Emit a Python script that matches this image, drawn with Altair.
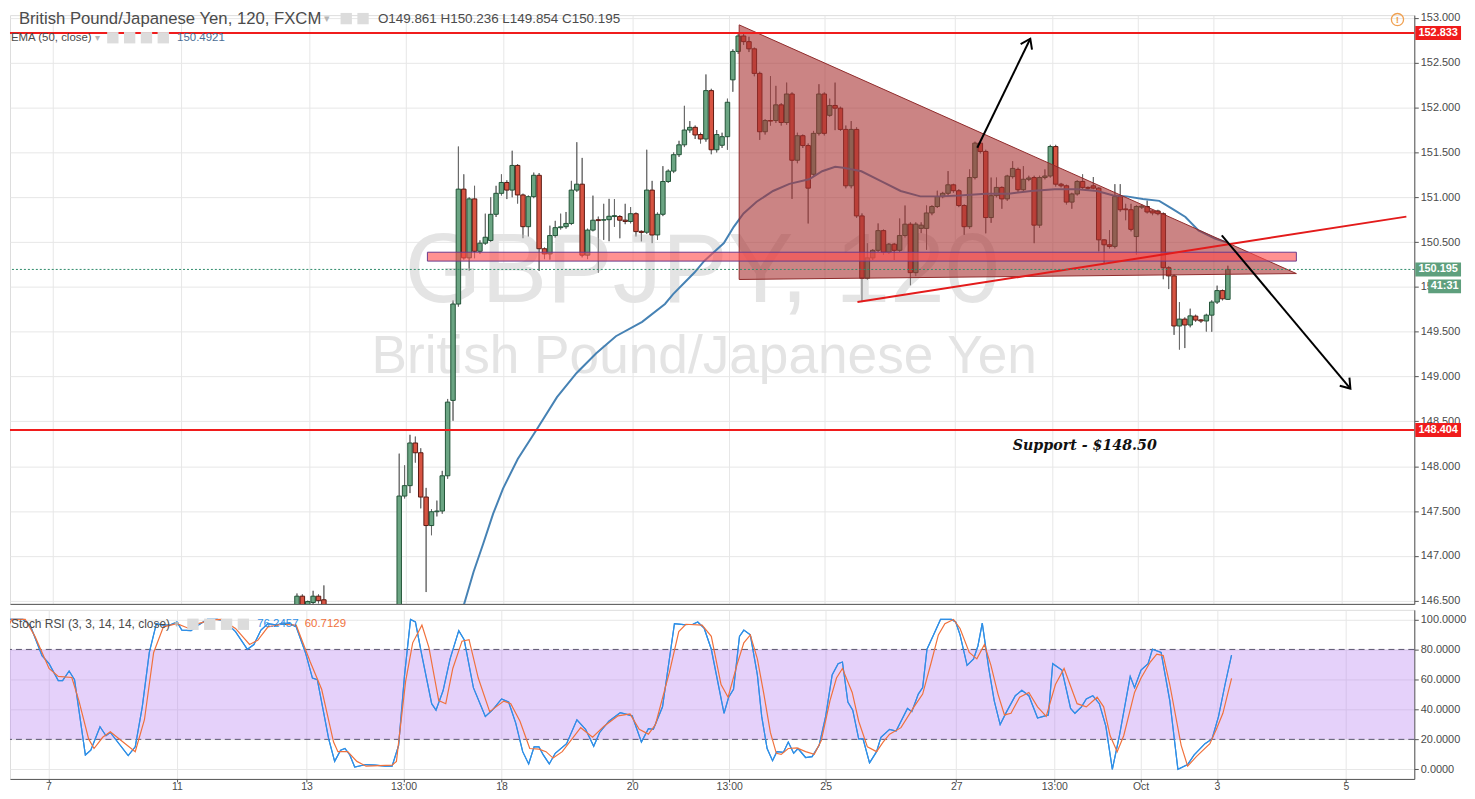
import altair as alt
import pandas as pd

# ---------------- data ----------------
# 2-hour candles, sequence number 0 = first bar of the breakout leg
candle_idx = list(range(-19, -13)) + list(range(0, 155))

opens = [146.41, 146.55, 146.45, 146.48, 146.55, 146.51,
    146.38, 147.667, 147.783, 148.259, 148.15, 147.656, 147.338, 147.492, 147.50, 147.893,
    148.734, 149.809, 151.091, 150.324, 150.982, 150.397, 150.488, 150.518, 150.810, 151.044,
    151.165, 151.08, 151.355, 151.026, 150.672, 151.007, 151.245, 150.426, 150.368, 150.573,
    150.661, 150.672, 150.708, 151.08, 151.146, 150.354, 150.634, 150.75, 150.745, 150.75,
    150.785, 150.785, 150.745, 150.73, 150.817, 150.62, 150.61, 151.08, 150.58, 150.81,
    151.176, 151.292, 151.475, 151.585, 151.75, 151.78, 151.70, 151.65, 152.19, 151.53,
    151.58, 151.676, 152.31, 152.627, 152.799, 152.736, 152.656, 152.382, 151.731, 151.856,
    151.856, 152.031, 151.834, 152.152, 151.413, 151.687, 151.577, 151.256, 151.713, 152.152,
    151.914, 152.024, 151.994, 151.757, 151.128, 151.757, 150.792, 150.097, 150.324, 150.408,
    150.628, 150.387, 150.477, 150.408, 150.573, 150.70, 150.159, 150.653, 150.653, 150.825,
    150.897, 151.007, 151.044, 151.139, 151.073, 150.908, 150.672, 151.22, 151.604, 151.511,
    150.774, 151.018, 151.11, 150.982, 151.23, 151.311, 151.084, 151.20, 151.22, 150.689,
    151.22, 151.237, 151.566, 151.146, 151.128, 150.946, 151.037, 151.176, 151.11, 151.128,
    151.102, 150.525, 150.47, 150.452, 151.007, 150.87, 150.861, 150.562, 150.89, 150.897,
    150.847, 150.847, 150.817, 150.214, 150.123, 149.564, 149.641, 149.575, 149.674, 149.632,
    149.62, 149.685, 149.831, 149.959, 149.861]

highs = [146.58, 146.57, 146.50, 146.61, 146.57, 146.67,
    148.14, 148.01, 148.35, 148.33, 148.20, 147.758, 147.52, 147.616, 147.948, 148.75,
    149.85, 151.566, 151.256, 151.00, 151.128, 150.52, 150.817, 151.00, 151.128, 151.256,
    151.19, 151.519, 151.37, 151.04, 151.02, 151.275, 151.27, 150.44, 150.683, 150.737,
    150.817, 150.836, 151.183, 151.614, 151.439, 150.65, 151.018, 150.784, 150.927, 150.982,
    150.98, 150.80, 150.927, 150.891, 150.83, 150.63, 151.53, 151.183, 150.83, 151.347,
    151.31, 151.50, 151.63, 152.02, 151.85, 151.80, 151.72, 152.37, 152.21, 151.75,
    151.72, 152.10, 152.65, 152.82, 152.833, 152.791, 152.67, 152.40, 151.87, 152.352,
    152.243, 152.05, 152.279, 152.17, 151.72, 151.70, 151.60, 151.74, 152.261, 152.17,
    152.10, 152.279, 152.01, 151.80, 151.85, 151.78, 150.82, 150.488, 150.42, 150.708,
    150.64, 150.49, 150.49, 150.763, 150.908, 150.72, 150.72, 150.72, 150.908, 150.91,
    151.073, 151.06, 151.292, 151.15, 151.09, 150.92, 151.311, 151.62, 151.62, 151.53,
    151.22, 151.22, 151.12, 151.25, 151.402, 151.33, 151.347, 151.24, 151.24, 151.24,
    151.311, 151.585, 151.585, 151.16, 151.14, 151.05, 151.19, 151.256, 151.12, 151.226,
    151.11, 150.53, 150.634, 151.146, 151.146, 150.927, 150.927, 150.91, 150.92, 150.963,
    150.86, 150.86, 150.83, 150.23, 150.14, 149.831, 149.66, 149.757, 149.69, 149.64,
    149.70, 149.85, 150.014, 149.97, 150.236]

lows = [146.38, 146.35, 146.40, 146.45, 146.47, 146.40,
    146.30, 147.64, 147.70, 148.04, 147.53, 146.596, 147.23, 147.44, 147.47, 147.86,
    148.507, 149.78, 150.305, 150.181, 150.32, 150.37, 150.47, 150.50, 150.78, 151.02,
    150.98, 151.00, 150.93, 150.543, 150.562, 150.99, 150.178, 150.31, 150.305, 150.55,
    150.64, 150.65, 150.69, 151.06, 150.33, 150.31, 150.62, 150.159, 150.525, 150.51,
    150.67, 150.543, 150.70, 150.71, 150.562, 150.507, 150.59, 150.488, 150.525, 150.79,
    151.16, 151.27, 151.45, 151.56, 151.72, 151.65, 151.60, 151.62, 151.48, 151.50,
    151.55, 151.53, 152.177, 152.60, 152.70, 152.62, 152.35, 151.64, 151.70, 151.80,
    151.83, 151.80, 151.81, 150.982, 151.38, 151.55, 150.708, 151.23, 151.69, 151.69,
    151.90, 151.749, 151.74, 151.10, 151.10, 150.77, 149.831, 150.08, 150.30, 150.39,
    150.36, 150.37, 150.30, 150.39, 150.55, 150.017, 150.12, 150.60, 150.415, 150.80,
    150.88, 150.99, 151.02, 151.05, 150.89, 150.579, 150.65, 151.20, 151.49, 150.598,
    150.715, 151.00, 150.872, 150.96, 151.21, 151.06, 151.06, 151.18, 150.488, 150.66,
    151.20, 151.22, 151.12, 151.11, 150.92, 150.872, 151.02, 151.09, 151.08, 151.09,
    150.397, 150.269, 150.43, 150.43, 150.84, 150.744, 150.62, 150.36, 150.87, 150.82,
    150.80, 150.80, 150.086, 149.976, 149.465, 149.301, 149.318, 149.55, 149.61, 149.60,
    149.502, 149.50, 149.81, 149.85, 149.854]

closes = [146.55, 146.40, 146.49, 146.55, 146.50, 146.45,
    147.667, 147.783, 148.259, 148.15, 147.656, 147.338, 147.492, 147.50, 147.893, 148.715,
    149.809, 151.091, 150.324, 150.982, 150.397, 150.488, 150.554, 150.810, 151.044, 151.165,
    151.08, 151.355, 151.026, 150.672, 151.007, 151.245, 150.426, 150.368, 150.573, 150.661,
    150.67, 150.708, 151.08, 151.146, 150.354, 150.634, 150.744, 150.74, 150.75, 150.788,
    150.795, 150.744, 150.73, 150.817, 150.617, 150.608, 151.08, 150.579, 150.81, 151.176,
    151.292, 151.475, 151.585, 151.75, 151.78, 151.695, 151.65, 152.19, 151.53, 151.70,
    151.676, 152.06, 152.627, 152.799, 152.736, 152.656, 152.382, 151.731, 151.856, 151.85,
    152.031, 151.834, 152.152, 151.413, 151.687, 151.577, 151.102, 151.713, 152.152, 151.713,
    152.024, 151.994, 151.757, 151.128, 151.757, 150.792, 150.097, 150.324, 150.408, 150.628,
    150.387, 150.477, 150.408, 150.573, 150.700, 150.159, 150.70, 150.689, 150.825, 150.897,
    151.007, 151.044, 151.139, 151.073, 150.908, 150.672, 151.22, 151.604, 151.511, 150.774,
    151.018, 151.11, 150.982, 151.237, 151.322, 151.084, 151.201, 151.215, 150.689, 151.22,
    151.237, 151.566, 151.146, 151.128, 150.946, 151.037, 151.176, 151.11, 151.10, 151.102,
    150.525, 150.47, 150.452, 151.007, 150.861, 150.861, 150.642, 150.897, 150.902, 150.836,
    150.825, 150.817, 150.214, 150.123, 149.564, 149.641, 149.575, 149.677, 149.63, 149.62,
    149.685, 149.831, 149.959, 149.867, 150.195]

ema50 = [(11.08, 146.27), (12.30, 146.51), (13.81, 146.82), (15.64, 147.14), (17.46, 147.47),
    (19.29, 147.75), (22.03, 148.08), (25.67, 148.42), (29.32, 148.77), (32.97, 149.04),
    (36.62, 149.26), (40.27, 149.45), (45.15, 149.61), (49.39, 149.81), (50.91, 149.92),
    (53.04, 150.05), (54.87, 150.16), (56.69, 150.29), (58.52, 150.39), (60.34, 150.49),
    (62.17, 150.67), (63.99, 150.82), (66.42, 150.95), (69.47, 151.07), (72.52, 151.15),
    (76.17, 151.20), (78.60, 151.29), (81.02, 151.34), (82.55, 151.33), (85.89, 151.29),
    (89.54, 151.18), (93.19, 151.07), (96.84, 151.01), (100.49, 151.01), (104.14, 151.02),
    (109.01, 151.04), (113.27, 151.04), (117.46, 151.07), (121.79, 151.09), (126.04, 151.09),
    (129.69, 151.07), (132.74, 151.02), (135.16, 151.01), (138.21, 150.98), (141.24, 150.96),
    (143.69, 150.87), (146.11, 150.78), (148.54, 150.63), (151.59, 150.54), (154.0, 150.4921)]

stoch_k = [(-72.9, 92.9), (-71.6, 100), (-69.0, 100), (-67.7, 96.2), (-65.5, 75.9), (-64.2, 70.5),
    (-62.5, 59.2), (-61.7, 59.2), (-60.5, 65.6), (-59.5, 59.8), (-57.5, 9.6), (-56.5, 12.8),
    (-54.8, 28.4), (-53.7, 22.4), (-52.9, 24.6), (-49.6, 9.2), (-48.3, 15.0), (-47.0, 41.7),
    (-45.7, 78.0), (-44.4, 97.2), (-43.1, 96.2), (-41.9, 96.2), (-40.6, 98.3), (-39.7, 92.9),
    (-38.0, 92.5), (-36.7, 96.2), (-35.0, 100), (-33.2, 100), (-32.0, 99.4), (-29.8, 91.9),
    (-27.6, 80.1), (-26.4, 83.3), (-25.1, 92.9), (-23.8, 97.2), (-22.1, 96.2), (-21.2, 97.6),
    (-19.9, 97.2), (-18.6, 95.1), (-16.9, 78.0), (-15.6, 60.9), (-14.7, 59.8), (-12.6, 20.3),
    (-11.5, 5.3), (-10.4, 12.8), (-9.6, 13.9), (-8.7, 9.6), (-7.8, 1.5), (-5.7, 3.2),
    (-4.0, 2.8), (-2.2, 2.1), (-0.9, 2.1), (0.3, 16.0), (1.4, 63.0), (2.5, 100), (3.4, 98.3),
    (4.6, 75.9), (6.4, 43.8), (7.2, 39.5), (8.5, 52.4), (9.8, 73.7), (11.4, 92.5), (12.4, 86.5),
    (14.1, 54.5), (16.3, 35.3), (17.6, 39.5), (19.3, 47.0), (20.6, 44.9), (21.9, 31.0),
    (23.2, 11.8), (24.3, 3.6), (25.3, 15.0), (26.2, 15.0), (27.0, 9.6), (28.1, 3.6),
    (29.2, 10.7), (31.3, 17.1), (33.2, 33.1), (34.8, 26.7), (36.3, 15.4), (37.4, 24.6),
    (39.1, 32.1), (41.2, 37.8), (43.4, 35.7), (45.1, 18.2), (46.4, 27.1), (47.3, 26.7),
    (49.0, 41.7), (51.2, 97.2), (52.9, 96.6), (54.6, 96.8), (55.5, 98.3), (56.7, 94.0),
    (58.0, 80.1), (60.35, 37.4), (61.2, 48.1), (62.1, 53.4), (63.2, 88.7), (64.0, 92.9),
    (65.2, 89.7), (66.5, 63.0), (67.3, 35.3), (68.3, 13.9), (69.3, 5.8), (70.1, 11.8),
    (71.3, 11.3), (72.2, 18.2), (73.2, 10.7), (74.0, 13.9), (75.4, 7.9), (76.6, 8.5),
    (77.9, 16.0), (79.1, 35.3), (80.3, 63.0), (81.4, 70.5), (82.2, 71.6), (83.2, 44.9),
    (84.1, 39.5), (85.2, 20.3), (86.0, 20.3), (87.2, 4.3), (88.5, 11.8), (89.3, 21.4),
    (90.9, 26.7), (92.1, 25.6), (94.2, 40.6), (95.0, 38.5), (96.2, 50.2), (97.0, 54.5),
    (97.8, 80.1), (99.0, 89.7), (100.3, 100), (102.3, 100), (103.1, 98.3), (103.9, 89.7),
    (105.2, 69.4), (106.4, 73.7), (107.2, 82.3), (108.0, 97.6), (109.2, 67.3), (110.2, 45.9),
    (111.3, 29.9), (112.5, 38.5), (114.1, 49.1), (115.3, 52.8), (116.6, 49.1), (118.2, 34.2),
    (120.2, 36.3), (121.0, 70.5), (122.7, 66.2), (124.3, 40.6), (125.1, 37.4), (126.3, 41.7),
    (127.2, 47.0), (128.4, 49.1), (129.6, 43.8), (130.8, 28.8), (132.0, 0.0), (133.3, 22.4),
    (135.3, 62.0), (136.1, 54.5), (137.3, 66.2), (138.6, 70.5), (139.4, 80.1), (141.0, 78.0),
    (142.6, 45.9), (144.1, 0.0), (145.9, 3.2), (147.1, 9.6), (149.1, 17.1), (150.4, 20.3),
    (151.6, 35.3), (152.8, 56.6), (154.0, 76.2457)]

stoch_d = [(-72.9, 86.5), (-71.1, 100), (-68.6, 100), (-66.8, 88.7), (-64.2, 67.3), (-62.5, 62.0),
    (-60.0, 61.3), (-58.7, 45.9), (-56.9, 20.3), (-55.9, 13.9), (-54.3, 21.4), (-52.9, 25.0),
    (-50.9, 19.2), (-48.3, 11.8), (-46.6, 33.1), (-44.9, 78.0), (-43.1, 95.1), (-40.6, 97.2),
    (-38.4, 94.0), (-36.7, 97.2), (-34.1, 99.8), (-32.4, 100), (-29.8, 94.0), (-27.2, 83.3),
    (-25.7, 86.1), (-23.8, 95.1), (-21.2, 96.8), (-18.6, 96.2), (-16.0, 71.6), (-13.9, 53.4),
    (-11.7, 18.2), (-10.9, 11.8), (-9.1, 11.8), (-7.4, 5.3), (-5.7, 2.1), (-0.9, 2.8),
    (-0.1, 5.3), (1.6, 58.8), (2.9, 84.4), (4.6, 96.2), (5.9, 81.2), (7.7, 45.9), (9.0, 43.8),
    (10.3, 67.3), (12.0, 85.5), (13.3, 86.5), (15.0, 60.9), (17.1, 38.5), (19.7, 45.5),
    (21.0, 43.8), (22.7, 32.1), (24.5, 13.9), (26.2, 13.5), (27.5, 11.8), (28.8, 7.5),
    (30.5, 11.8), (33.9, 27.8), (36.1, 21.4), (38.2, 28.8), (40.8, 35.7), (43.0, 37.0),
    (44.7, 26.7), (46.4, 23.5), (47.7, 29.9), (50.3, 65.2), (52.0, 91.9), (53.3, 96.8),
    (56.3, 96.2), (58.0, 88.7), (59.8, 56.6), (61.1, 48.1), (62.8, 70.5), (64.0, 84.4),
    (65.2, 89.7), (66.5, 73.7), (67.7, 50.2), (68.9, 24.6), (70.0, 10.7), (70.9, 10.0),
    (72.2, 13.9), (73.8, 14.3), (75.4, 11.8), (77.0, 10.0), (78.3, 19.2), (79.9, 45.9),
    (81.1, 60.9), (82.2, 67.3), (84.0, 51.3), (85.2, 32.1), (86.8, 15.0), (88.5, 11.8),
    (89.7, 18.2), (90.9, 23.5), (93.0, 27.8), (95.4, 41.7), (97.0, 50.2), (98.6, 71.6),
    (99.9, 89.7), (101.1, 97.2), (102.7, 100), (103.9, 94.0), (105.6, 78.0), (107.0, 73.7),
    (108.4, 83.3), (109.6, 69.4), (110.9, 50.2), (112.1, 36.3), (113.3, 37.4), (114.9, 48.1),
    (116.6, 51.3), (118.2, 41.7), (119.8, 35.3), (121.5, 56.6), (123.1, 67.3), (125.5, 43.8),
    (127.2, 41.7), (129.2, 48.1), (130.4, 41.7), (131.6, 22.4), (132.9, 11.8), (134.1, 22.4),
    (136.1, 51.3), (137.3, 60.9), (139.0, 71.6), (140.2, 76.9), (141.4, 75.9), (142.6, 56.6),
    (144.7, 16.0), (145.9, 2.1), (147.5, 8.5), (150.0, 17.1), (151.2, 26.7), (152.4, 37.4),
    (154.0, 60.7129)]

day_tick_pos = [-64.3, -40.6, -16.7, 1.2, 19.3, 43.4, 61.3, 79.1, 103.2, 121.3, 137.2, 151.3, 175.1]
day_tick_labels = ['7', '11', '13', '13:00', '18', '20', '13:00', '25', '27', '13:00', 'Oct', '3', '5']
price_ticks = [146.5, 147.0, 147.5, 148.0, 148.5, 149.0, 149.5, 150.0, 150.5, 151.0, 151.5, 152.0, 152.5, 153.0]
stoch_ticks = [0, 20, 40, 60, 80, 100]

resistance = 152.833
support = 148.404
last_close = 150.195
ema_last = 150.4921
k_last = 76.2457
d_last = 60.7129
ohlc_text = "O149.861   H150.236   L149.854   C150.195"

triangle_idx = [63.18, 166.73]
triangle_top = [152.923, 150.149]
triangle_bot = [150.083, 150.149]
zone_idx = [5.24, 166.73]
zone_band = [150.288, 150.387]
trend_idx = [85.16, 187.17]
trend_val = [149.831, 150.784]
arrow_up = [(107.43, 151.552), (117.28, 152.769)]
arrow_dn = [(152.87, 150.576), (176.77, 148.866)]
support_note = (127.4, 148.23, "Support - $148.50")

assert len(candle_idx) == len(opens) == len(highs) == len(lows) == len(closes)

# ---------------- frames ----------------
candles = pd.DataFrame({"n": candle_idx, "open": opens, "high": highs, "low": lows, "close": closes})
candles["dir"] = ["up" if c >= o else "down" for o, c in zip(opens, closes)]
ema_df = pd.DataFrame(ema50, columns=["n", "v"])
k_df = pd.DataFrame(stoch_k, columns=["n", "v"])
d_df = pd.DataFrame(stoch_d, columns=["n", "v"])
tri_df = pd.DataFrame({"n": triangle_idx, "top": triangle_top, "bot": triangle_bot})
tri_edge = pd.DataFrame({"n": [triangle_idx[0], triangle_idx[1], triangle_idx[0], triangle_idx[0]],
                         "v": [triangle_top[0], triangle_top[1], triangle_bot[0], triangle_top[0]],
                         "o": [0, 1, 2, 3]})
zone_df = pd.DataFrame({"n1": [zone_idx[0]], "n2": [zone_idx[1]], "lo": [zone_band[0]], "hi": [zone_band[1]]})
trend_df = pd.DataFrame({"n": trend_idx, "v": trend_val})
arrows_df = pd.DataFrame([(0, i) + p for i, p in enumerate(arrow_up)] + [(1, i) + p for i, p in enumerate(arrow_dn)],
                         columns=["g", "o", "n", "v"])
heads_df = pd.DataFrame({"n": [arrow_up[1][0], arrow_dn[1][0]], "v": [arrow_up[1][1], arrow_dn[1][1]], "ang": [26, 140]})

# ---------------- scales / axes ----------------
REF_TOP = 8.0      # reference pixel row shown at the top of the price panel
W, H1, H2 = 1412, 592, 170
xs = alt.Scale(domain=[-71.41, 187.72], nice=False, zero=False)
ps = alt.Scale(domain=[146.464, 153.032], nice=False, zero=False)
ss = alt.Scale(domain=[-6.4, 106.4], nice=False, zero=False)
kx = W / 1420.0
ky = H1 / (607.0 - REF_TOP)
ky2 = H2 / 176.0
HEAD_Y = 3.5       # header text row

GRID, AX, LBL = "#e7e7e7", "#555555", "#4a4a4a"
label_expr = ("[" + ",".join("'%s'" % s for s in day_tick_labels) + "][indexof(["
              + ",".join(repr(v) for v in day_tick_pos) + "], datum.value)]")

x_top_axis = alt.Axis(values=day_tick_pos, grid=True, gridColor=GRID, labels=False, ticks=False,
                      domain=True, domainColor=AX, title=None)
x_bot_axis = alt.Axis(values=day_tick_pos, grid=True, gridColor=GRID, labelExpr=label_expr, ticks=True,
                      tickSize=3, tickColor=AX, domainColor=AX, labelColor=LBL, labelFontSize=10.5,
                      labelPadding=0, labelFlush=False, labelOverlap=False, title=None)
p_axis = alt.Axis(orient="right", values=price_ticks, format=".3f", grid=True, gridColor=GRID, tickSize=4,
                  tickColor=AX, domainColor=AX, labelColor=LBL, labelFontSize=11, labelPadding=2,
                  labelOverlap=False, labelFlush=False, title=None)
s_axis = alt.Axis(orient="right", values=stoch_ticks, format=".4f", grid=True, gridColor=GRID, tickSize=4,
                  tickColor=AX, domainColor=AX, labelColor=LBL, labelFontSize=11, labelPadding=2,
                  labelOverlap=False, labelFlush=False, title=None)


def PX(f):
    return alt.X(f, type="quantitative", scale=xs, axis=x_top_axis)


def PY(f):
    return alt.Y(f, type="quantitative", scale=ps, axis=p_axis)


def SX(f):
    return alt.X(f, type="quantitative", scale=xs, axis=x_bot_axis)


def SY(f):
    return alt.Y(f, type="quantitative", scale=ss, axis=s_axis)


def px(ref_x):
    return (ref_x - 8) * kx


def py(ref_y):
    return (ref_y - REF_TOP) * ky


def sy(ref_y):
    return (ref_y - 609) * ky2


def txt(s):
    return alt.Chart(pd.DataFrame({"t": [s]}))


def icons(xs_ref, y):
    return alt.Chart(pd.DataFrame({"x": [px(v) for v in xs_ref]})).mark_point(
        shape="square", filled=True, size=130, color="#dcdcdc", opacity=1).encode(
        x=alt.X("x:Q", scale=None, axis=None), y=alt.value(y))


# ---------------- price panel ----------------
watermark1 = txt("GBPJPY, 120").mark_text(fontSize=99, color="#e4e4e4", align="center", baseline="middle").encode(
    x=alt.value(px(708)), y=alt.value(py(270)), text="t:N")
watermark2 = txt("British Pound/Japanese Yen").mark_text(fontSize=53.5, color="#e4e4e4", align="center",
                                                        baseline="middle").encode(
    x=alt.value(px(710)), y=alt.value(py(356)), text="t:N")

wicks = alt.Chart(candles).mark_rule(color="#6a6a6a", strokeWidth=1, clip=True).encode(
    x=PX("n"), y=PY("low"), y2="high")
bodies = alt.Chart(candles).mark_bar(size=4.5, strokeWidth=1, clip=True).encode(
    x=PX("n"), y=PY("open"), y2="close",
    fill=alt.Fill("dir:N", scale=alt.Scale(domain=["up", "down"], range=["#6ba583", "#d75442"]), legend=None),
    stroke=alt.Stroke("dir:N", scale=alt.Scale(domain=["up", "down"], range=["#225437", "#5b1a13"]), legend=None))
ema_line = alt.Chart(ema_df).mark_line(color="#4682b4", strokeWidth=2, clip=True).encode(x=PX("n"), y=PY("v"))

tri_fill = alt.Chart(tri_df).mark_area(color="#a83232", opacity=0.6).encode(x=PX("n"), y=PY("top"), y2="bot")
tri_line = alt.Chart(tri_edge).mark_line(color="#8f2a2a", strokeWidth=1).encode(x=PX("n"), y=PY("v"), order="o:Q")
zone = alt.Chart(zone_df).mark_rect(fill="#ff4d4d", fillOpacity=0.62, stroke="#6b3a8a", strokeWidth=1).encode(
    x=PX("n1"), x2="n2", y=PY("lo"), y2="hi")
trend = alt.Chart(trend_df).mark_line(color="#e31b1b", strokeWidth=2).encode(x=PX("n"), y=PY("v"))
hlines = alt.Chart(pd.DataFrame({"v": [resistance, support]})).mark_rule(color="#f01c1c", strokeWidth=2).encode(
    y=PY("v"))
lastline = alt.Chart(pd.DataFrame({"v": [last_close]})).mark_rule(color="#2e8b6a", strokeWidth=1,
                                                                  strokeDash=[2, 2]).encode(y=PY("v"))
arrow_lines = alt.Chart(arrows_df).mark_line(color="black", strokeWidth=2).encode(
    x=PX("n"), y=PY("v"), detail="g:N", order="o:Q")
arrow_heads = alt.Chart(heads_df).mark_point(shape="M-0.7,1L0,0L0.7,1", filled=False, size=330, strokeWidth=2,
                                             color="black", opacity=1).encode(
    x=PX("n"), y=PY("v"), angle=alt.Angle("ang:Q", scale=None))
support_txt = alt.Chart(pd.DataFrame({"n": [support_note[0]], "v": [support_note[1]], "t": [support_note[2]]})).mark_text(
    font="DejaVu Serif", fontStyle="italic", fontWeight="bold", fontSize=14.3, color="#111111").encode(
    x=PX("n"), y=PY("v"), text="t:N")

title1 = txt("British Pound/Japanese Yen, 120, FXCM").mark_text(
    fontSize=16.8, color="#4b4b4b", align="left", baseline="middle").encode(
    x=alt.value(px(17)), y=alt.value(HEAD_Y), text="t:N")
title_arrow = txt("\u25be").mark_text(fontSize=11, color="#b5b5b5", baseline="middle").encode(
    x=alt.value(px(329)), y=alt.value(HEAD_Y), text="t:N")
title_icons = icons([348, 365], HEAD_Y)
ohlc = txt(ohlc_text).mark_text(fontSize=13.5, color="#4b4b4b", align="left", baseline="middle").encode(
    x=alt.value(px(380)), y=alt.value(HEAD_Y), text="t:N")
ema_lbl = txt("EMA (50, close)").mark_text(fontSize=11.5, color="#4b4b4b", align="left", baseline="middle").encode(
    x=alt.value(1), y=alt.value(py(31)), text="t:N")
ema_arrow = txt("\u25be").mark_text(fontSize=10, color="#b5b5b5", baseline="middle").encode(
    x=alt.value(px(96)), y=alt.value(py(31)), text="t:N")
ema_icons = icons([112, 129, 146, 163], py(31))
ema_val = alt.Chart(pd.DataFrame({"t": ["%.4f" % ema_last]})).mark_text(
    fontSize=11.5, color="#4a6d95", align="left", baseline="middle").encode(
    x=alt.value(px(177)), y=alt.value(py(31)), text="t:N")
warn = txt("!").mark_point(shape="circle", filled=False, size=150, strokeWidth=1.3, color="#f0a050",
                           opacity=1).encode(x=alt.value(px(1411)), y=alt.value(HEAD_Y + 1))
warn_t = txt("!").mark_text(fontSize=10, fontWeight="bold", color="#f0a050", baseline="middle").encode(
    x=alt.value(px(1411)), y=alt.value(HEAD_Y + 1), text="t:N")

BOX46 = "M-1,-0.3043L1,-0.3043L1,0.3043L-1,0.3043Z"
BOX33 = "M-1,-0.4242L1,-0.4242L1,0.4242L-1,0.4242Z"
red_tags = pd.DataFrame({"v": [resistance, support], "t": ["%.3f" % resistance, "%.3f" % support]})
green_tags = pd.DataFrame({"v": [last_close], "t": ["%.3f" % last_close]})
red_box = alt.Chart(red_tags).mark_point(shape=BOX46, filled=True, size=2116, color="#f01c1c", opacity=1).encode(
    x=alt.value(W + 24), y=PY("v"))
red_box_t = alt.Chart(red_tags).mark_text(fontSize=11, fontWeight="bold", color="white").encode(
    x=alt.value(W + 24), y=PY("v"), text="t:N")
green_box = alt.Chart(green_tags).mark_point(shape=BOX46, filled=True, size=2116, color="#5e9f7d", opacity=1).encode(
    x=alt.value(W + 24), y=PY("v"))
green_box_t = alt.Chart(green_tags).mark_text(fontSize=11, fontWeight="bold", color="white").encode(
    x=alt.value(W + 24), y=PY("v"), text="t:N")
timer_box = txt("41:31").mark_point(shape=BOX33, filled=True, size=1089, color="#5e9f7d", opacity=1).encode(
    x=alt.value(W + 30.5), y=alt.value(py(284)))
timer_t = txt("41:31").mark_text(fontSize=11, fontWeight="bold", color="white").encode(
    x=alt.value(W + 30.5), y=alt.value(py(284)), text="t:N")

price_panel = alt.layer(
    wicks, watermark1, watermark2, wicks, bodies, ema_line, tri_fill, tri_line, zone, trend, hlines, lastline,
    arrow_lines, arrow_heads, support_txt, title1, title_arrow, title_icons, ohlc, ema_lbl, ema_arrow,
    ema_icons, ema_val, warn, warn_t, red_box, red_box_t, green_box, green_box_t, timer_box, timer_t
).properties(width=W, height=H1)

# ---------------- stoch RSI panel ----------------
band = alt.Chart(pd.DataFrame({"lo": [20], "hi": [80]})).mark_rect(color="#b57cf0", opacity=0.35).encode(
    x=alt.value(0), x2=alt.value(W), y=SY("lo"), y2="hi")
band_lines = alt.Chart(pd.DataFrame({"v": [20, 80]})).mark_rule(color="#5b5670", strokeWidth=1,
                                                                strokeDash=[6, 4]).encode(y=SY("v"))
k_line = alt.Chart(k_df).mark_line(color="#2f8fe6", strokeWidth=1.2, clip=True).encode(x=SX("n"), y=SY("v"))
d_line = alt.Chart(d_df).mark_line(color="#f0713c", strokeWidth=1.2, clip=True).encode(x=SX("n"), y=SY("v"))
st_lbl = txt("Stoch RSI (3, 3, 14, 14, close)").mark_text(fontSize=12, color="#4b4b4b", align="left",
                                                          baseline="middle").encode(
    x=alt.value(1), y=alt.value(sy(624)), text="t:N")
st_arrow = txt("\u25be").mark_text(fontSize=10, color="#b5b5b5", baseline="middle").encode(
    x=alt.value(px(176)), y=alt.value(sy(624)), text="t:N")
st_icons = icons([193, 210, 227, 244], sy(624))
k_val = alt.Chart(pd.DataFrame({"t": ["%.4f" % k_last]})).mark_text(fontSize=11.5, color="#2f8fe6", align="left",
                                                                     baseline="middle").encode(
    x=alt.value(px(258)), y=alt.value(sy(624)), text="t:N")
d_val = alt.Chart(pd.DataFrame({"t": ["%.4f" % d_last]})).mark_text(fontSize=11.5, color="#f0713c", align="left",
                                                                     baseline="middle").encode(
    x=alt.value(px(306)), y=alt.value(sy(624)), text="t:N")

stoch_panel = alt.layer(k_line, band, band_lines, k_line, d_line, st_lbl, st_arrow, st_icons, k_val, d_val
                        ).properties(width=W, height=H2)

chart = alt.vconcat(price_panel, stoch_panel, spacing=2).properties(padding=0).configure_view(
    strokeWidth=0).configure(font="Liberation Sans")

chart.save("out.html", embed_options={"renderer": "svg", "actions": False})
